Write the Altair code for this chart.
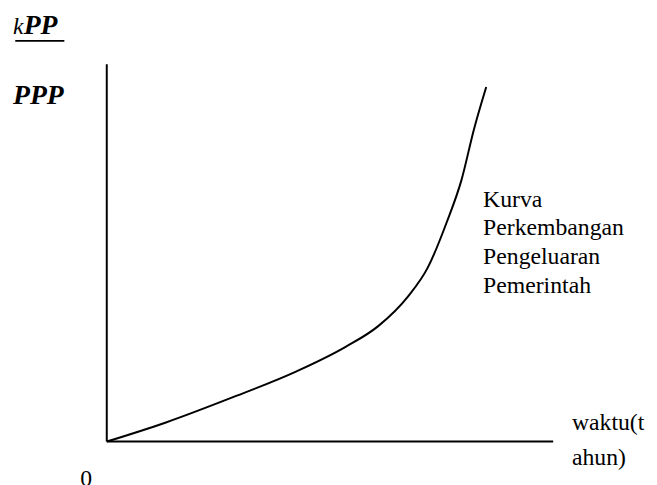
import altair as alt
import pandas as pd

# Curve "Kurva Perkembangan Pengeluaran Pemerintah" (arbitrary units)
curve_t = [0, 13.1, 27.7, 42.5, 53.5, 60.8, 67.5, 71.9, 76.3, 79.4, 82.3, 85.0]
curve_v = [0, 5.0, 11.5, 18.6, 25.1, 30.6, 38.5, 46.1, 58.6, 69.1, 83.0, 94.0]

# Axis extents
x_axis_end = 100
y_axis_end = 100

# Labels
curve_label_lines = ["Kurva", "Perkembangan", "Pengeluaran", "Pemerintah"]
x_label_lines = ["waktu(t", "ahun)"]
origin_label = "0"
y_num_k = "k"
y_num_pp = "PP"
y_den = "PPP"

FONT = "'Liberation Serif', 'Times New Roman', Times, serif"

XS = alt.Scale(domain=[0, 100], range=[100, 552])
YS = alt.Scale(domain=[0, 100], range=[436, 54])

def X(f):
    return alt.X(f, type="quantitative", scale=XS, axis=None)

def Y(f):
    return alt.Y(f, type="quantitative", scale=YS, axis=None)

curve_df = pd.DataFrame({"t": curve_t, "v": curve_v})
curve = alt.Chart(curve_df).mark_line(color="black", strokeWidth=2, interpolate="monotone").encode(
    x=X("t"), y=Y("v"))

axes_df = pd.DataFrame({
    "x": [0, 0], "x2": [0, x_axis_end],
    "y": [0, 0], "y2": [y_axis_end, 0],
})
axes = alt.Chart(axes_df).mark_rule(color="black", strokeWidth=2).encode(
    x=X("x"), x2="x2", y=Y("y"), y2="y2")

under_df = pd.DataFrame({"x": [-20.5], "x2": [-9.5], "y": [106.2]})
underline = alt.Chart(under_df).mark_rule(color="black", strokeWidth=2).encode(
    x=X("x"), x2="x2", y=Y("y"))

curve_lab_df = pd.DataFrame({
    "t": curve_label_lines,
    "x": [84.3] * 4,
    "y": [62.3, 54.7, 47.1, 39.5],
})
curve_lab = alt.Chart(curve_lab_df).mark_text(
    align="left", baseline="alphabetic", font=FONT, fontSize=24, color="black"
).encode(x=X("x"), y=Y("y"), text="t")

x_lab_df = pd.DataFrame({"t": x_label_lines, "x": [104.2, 104.2], "y": [3.1, -6.3]})
x_lab = alt.Chart(x_lab_df).mark_text(
    align="left", baseline="alphabetic", font=FONT, fontSize=24, color="black"
).encode(x=X("x"), y=Y("y"), text="t")

o_df = pd.DataFrame({"t": [origin_label], "x": [-4.6], "y": [-11.8]})
o_lab = alt.Chart(o_df).mark_text(
    align="center", baseline="alphabetic", font=FONT, fontSize=24, color="black"
).encode(x=X("x"), y=Y("y"), text="t")

bold_df = pd.DataFrame({
    "t": [y_num_pp, y_den],
    "x": [-18.6, -21.0],
    "y": [107.9, 89.5],
})
bold_lab = alt.Chart(bold_df).mark_text(
    align="left", baseline="alphabetic", font=FONT, fontSize=28,
    fontWeight="bold", fontStyle="italic", color="black"
).encode(x=X("x"), y=Y("y"), text="t")

k_df = pd.DataFrame({"t": [y_num_k], "x": [-21.0], "y": [107.9]})
k_lab = alt.Chart(k_df).mark_text(
    align="left", baseline="alphabetic", font=FONT, fontSize=24,
    fontStyle="italic", color="black"
).encode(x=X("x"), y=Y("y"), text="t")

chart = alt.layer(axes, curve, underline, curve_lab, x_lab, o_lab, bold_lab, k_lab).properties(
    width=649, height=477, autosize="none", padding=0
).configure_view(stroke=None)

chart.save("out.html", embed_options={"renderer": "svg", "actions": False})
